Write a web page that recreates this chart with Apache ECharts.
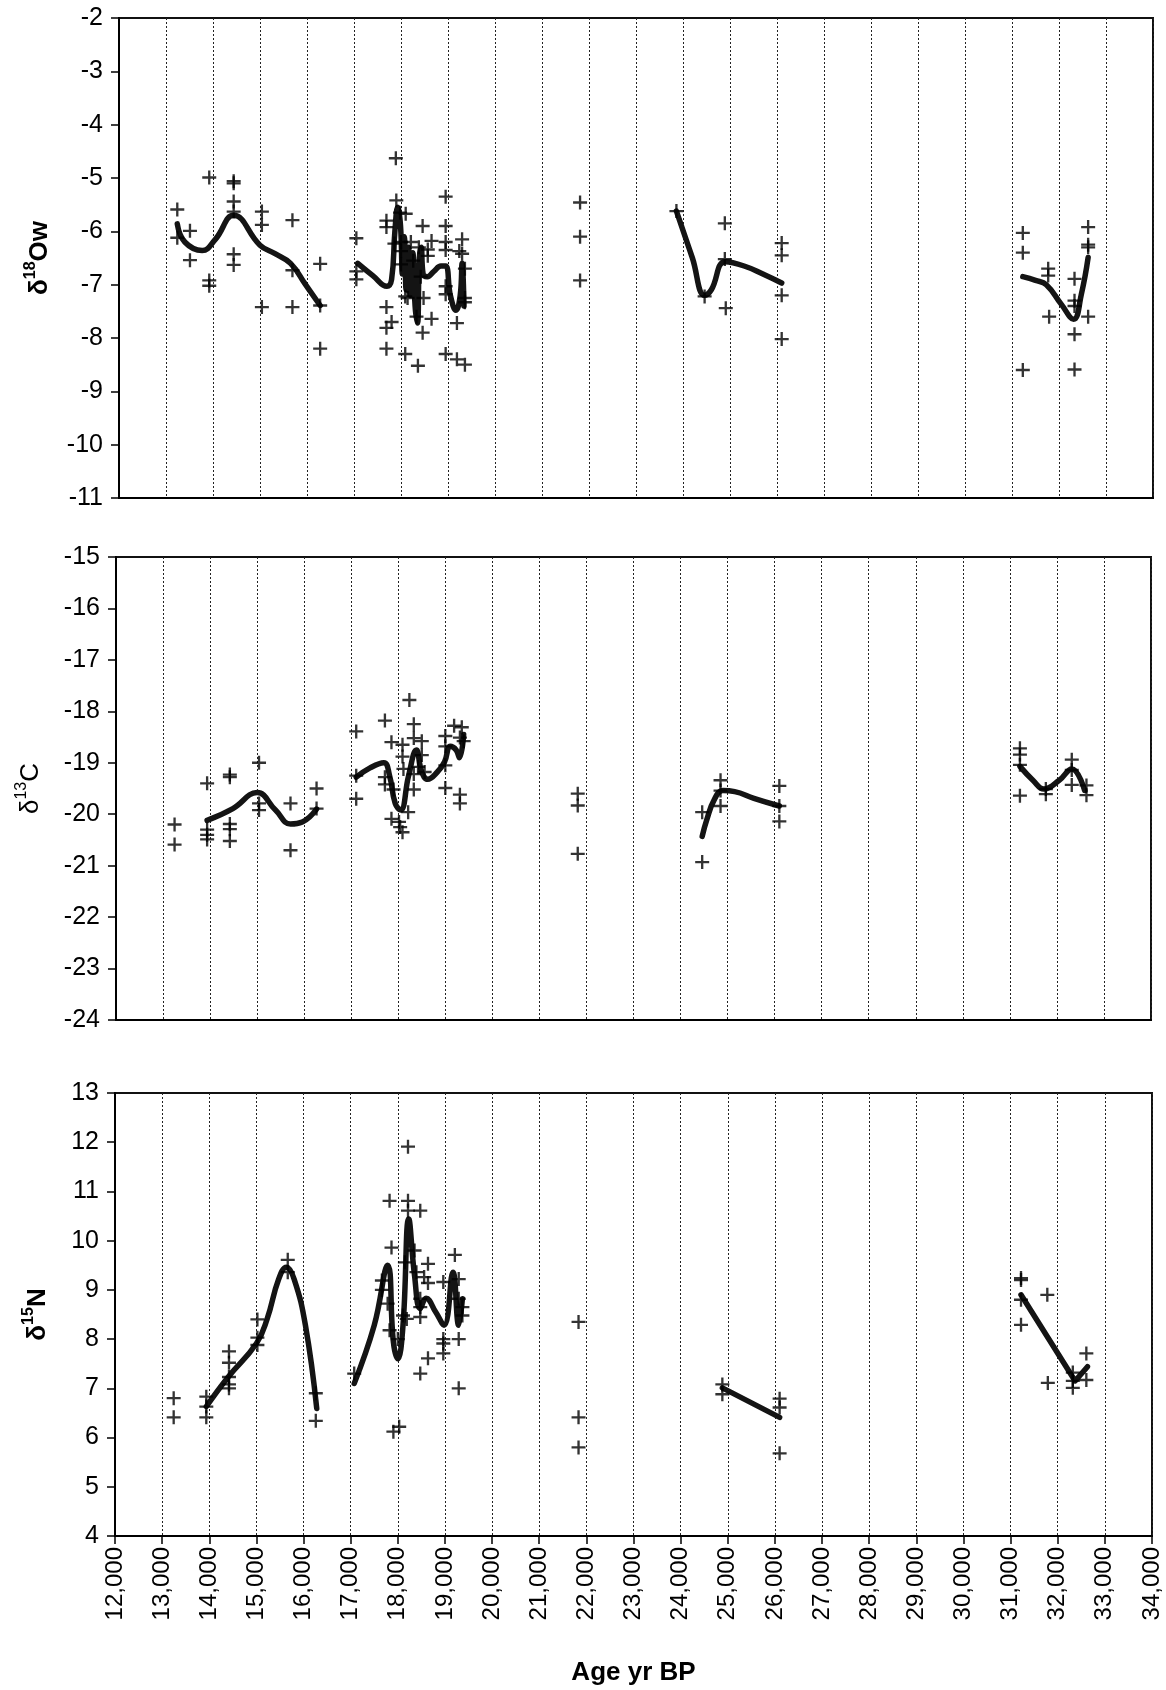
<!DOCTYPE html>
<html>
<head>
<meta charset="utf-8">
<script src="https://cdn.jsdelivr.net/npm/echarts@6/dist/echarts.min.js"></script>
<style>
html,body{margin:0;padding:0;background:#fff;}
#c{width:1166px;height:1690px;}
</style>
</head>
<body>
<div id="c"></div>
<script>
// ---------- DATA ----------
const ageMin = 12000, ageMax = 34000, ageStep = 1000;
const o18Range = [-11, -2];
const c13Range = [-24, -15];
const n15Range = [4, 13];

// δ18Ow measured points [age, value]
const o18Points = [
  [13240,-5.59],[13240,-6.12],[13510,-5.99],[13510,-6.54],[13920,-4.99],[13920,-6.92],[13920,-7.02],
  [14440,-5.06],[14440,-5.1],[14440,-5.44],[14440,-5.63],[14440,-6.43],[14440,-6.63],
  [15040,-5.63],[15040,-5.88],[15040,-7.42],[15690,-5.79],[15690,-6.73],[15690,-7.42],
  [16280,-6.61],[16280,-7.39],[16280,-8.2],
  [17050,-6.13],[17050,-6.75],[17050,-6.9],
  [17690,-5.8],[17690,-5.92],[17690,-7.42],[17690,-7.81],[17690,-8.2],[17800,-7.7],
  [17890,-4.63],[17900,-5.42],[17860,-6.23],[17980,-5.65],[18000,-6.2],[18000,-6.37],[18000,-6.62],
  [18100,-5.67],[18090,-7.22],[18090,-8.3],[18140,-7.25],[18210,-6.2],[18260,-6.55],[18330,-7.6],
  [18360,-8.52],[18380,-6.3],[18420,-6.85],[18460,-5.9],[18460,-7.9],[18480,-7.25],
  [18570,-6.34],[18570,-6.46],[18650,-6.18],[18650,-7.64],
  [18950,-5.35],[18950,-5.9],[18950,-6.2],[18950,-6.35],[18950,-7.03],[18950,-7.18],[18950,-8.3],
  [19190,-7.72],[19190,-8.4],[19240,-6.37],[19300,-6.15],[19300,-6.42],
  [19360,-6.7],[19360,-7.25],[19360,-7.33],[19360,-8.5],
  [21810,-5.46],[21810,-6.1],[21810,-6.92],
  [23860,-5.62],[24460,-7.22],[24890,-5.85],[24890,-6.52],[24910,-7.44],
  [26100,-6.22],[26100,-6.45],[26100,-7.2],[26100,-8.02],
  [31230,-6.03],[31230,-6.4],[31230,-8.6],[31770,-6.7],[31770,-6.83],[31790,-7.6],
  [32330,-6.89],[32330,-7.3],[32330,-7.4],[32330,-7.93],[32330,-8.59],
  [32620,-5.92],[32620,-6.25],[32620,-6.3],[32620,-7.6]
];
// δ18Ow smoothed curves
const o18FitA = [[13240,-5.86],[13400,-6.2],[13770,-6.36],[14050,-6.15],[14440,-5.7],[15000,-6.26],[15320,-6.42],[15650,-6.6],[15970,-7.0],[16280,-7.39]];
const o18FitB = [[17080,-6.6],[17400,-6.83],[17700,-7.03],[17800,-6.9],[17870,-6.0],[17930,-5.55],[17990,-5.9],[18030,-6.8],[18070,-6.1],[18110,-7.1],[18160,-6.3],[18200,-7.2],[18250,-6.4],[18300,-7.4],[18350,-7.72],[18390,-6.5],[18430,-6.3],[18470,-6.8],[18560,-6.85],[18700,-6.75],[18850,-6.65],[18950,-6.65],[19050,-7.2],[19170,-7.48],[19260,-7.2],[19300,-6.6],[19340,-7.4]];
const o18FitC = [[23860,-5.62],[24200,-6.5],[24460,-7.2],[24600,-7.1],[24900,-6.57],[25300,-6.65],[25700,-6.8],[26100,-6.97]];
const o18FitD = [[31230,-6.85],[31500,-6.92],[31730,-7.0],[32050,-7.37],[32310,-7.65],[32475,-7.18],[32620,-6.49]];

// δ13C measured points
const c13Points = [
  [13245,-20.2],[13245,-20.59],[13937,-19.4],[13937,-20.3],[13937,-20.4],[13937,-20.49],
  [14420,-19.23],[14420,-19.28],[14420,-20.19],[14420,-20.29],[14420,-20.52],
  [15040,-19.0],[15040,-19.79],[15040,-19.92],[15709,-19.79],[15709,-20.7],[16263,-19.5],[16263,-19.89],
  [17106,-18.39],[17106,-19.25],[17106,-19.7],[17716,-18.18],[17716,-19.28],[17716,-19.42],
  [17855,-18.6],[17900,-19.52],[17855,-20.09],[18016,-20.15],[18040,-20.25],[18090,-20.35],
  [18236,-17.78],[18090,-18.65],[18330,-18.25],[18090,-18.88],[18110,-19.12],[18330,-18.52],
  [18500,-18.58],[18500,-18.85],[18420,-19.08],[18330,-19.22],[18330,-19.52],[18560,-19.18],[18210,-19.96],
  [19000,-18.48],[19000,-18.68],[19000,-19.05],[19000,-19.49],[19187,-18.28],[19350,-18.31],
  [19310,-18.51],[19390,-18.58],[19310,-19.62],[19310,-19.79],
  [21815,-19.6],[21815,-19.83],[21815,-20.77],
  [24460,-19.96],[24460,-20.93],[24850,-19.34],[24850,-19.54],[24850,-19.84],
  [26100,-19.45],[26100,-19.84],[26100,-20.14],
  [31214,-18.72],[31214,-18.84],[31214,-19.04],[31214,-19.64],[31765,-19.51],[31765,-19.61],
  [32316,-18.94],[32316,-19.14],[32316,-19.43],[32628,-19.44],[32628,-19.63]
];
const c13FitA = [[13937,-20.12],[14484,-19.89],[15000,-19.58],[15390,-19.92],[15709,-20.19],[15960,-20.15],[16263,-19.9]];
const c13FitB = [[17106,-19.28],[17400,-19.1],[17693,-19.0],[17815,-19.25],[17935,-19.79],[18050,-19.92],[18220,-19.25],[18385,-18.75],[18500,-19.18],[18625,-19.32],[18830,-19.18],[18985,-18.98],[19105,-18.68],[19230,-18.75],[19300,-18.9],[19390,-18.45]];
const c13FitC = [[24460,-20.43],[24560,-20.1],[24720,-19.71],[24900,-19.54],[25150,-19.56],[25560,-19.69],[26100,-19.84]];
const c13FitD = [[31214,-19.07],[31500,-19.35],[31724,-19.51],[32050,-19.34],[32316,-19.12],[32590,-19.54]];

// δ15N measured points
const n15Points = [
  [13245,6.8],[13245,6.41],[13937,6.83],[13937,6.63],[13937,6.41],
  [14418,7.75],[14418,7.52],[14418,7.23],[14418,7.08],[14418,7.0],
  [15021,8.4],[15021,8.03],[15021,7.88],[15665,9.61],[15665,9.36],[16260,6.9],[16260,6.34],
  [17075,7.3],[17662,9.19],[17662,9.0],[17825,10.81],[17866,9.86],[17784,8.72],[17825,8.18],
  [17906,6.12],[18029,6.22],[18110,8.48],[18190,8.41],[18216,11.91],[18216,10.81],[18216,10.61],
  [18150,9.56],[18355,9.8],[18395,9.36],[18476,10.61],[18558,9.26],[18640,9.53],[18640,9.14],
  [18476,8.82],[18476,8.65],[18476,8.45],[18640,7.61],[18476,7.3],
  [18965,9.16],[18965,8.0],[18965,7.91],[18965,7.71],[19210,9.71],[19292,9.22],[19292,8.82],
  [19370,8.65],[19370,8.48],[19292,8.0],[19292,7.0],[18000,8.0],
  [21834,8.35],[21834,6.41],[21834,5.8],
  [24885,7.08],[24885,6.88],[26100,6.79],[26100,6.61],[26100,5.68],
  [31221,9.24],[31221,9.2],[31221,8.8],[31221,8.29],[31779,8.9],[31790,7.11],
  [32320,7.32],[32320,7.15],[32320,7.01],[32607,7.71],[32607,7.17]
];
const n15FitA = [[13937,6.63],[14402,7.23],[15000,7.91],[15228,8.41],[15473,9.22],[15636,9.46],[15800,9.22],[16040,8.28],[16280,6.59]];
const n15FitB = [[17075,7.1],[17500,8.28],[17784,9.5],[17906,7.94],[18000,7.6],[18110,8.28],[18232,10.44],[18355,9.29],[18476,8.62],[18600,8.83],[18803,8.55],[18980,8.28],[19170,9.36],[19292,8.28],[19370,8.82]];
const n15FitC = [[24885,7.01],[26100,6.41]];
const n15FitD = [[31221,8.9],[32369,7.15],[32631,7.44]];

// ---------- CHART ----------
const FONT = '"Liberation Sans", Arial, sans-serif';
const plusPath = 'path://M5,0H7V5H12V7H7V12H5V7H0V5H5Z';

function xAxisCfg(idx, showLabels) {
  return {
    type: 'value', gridIndex: idx, min: ageMin, max: ageMax, interval: ageStep,
    axisLine: { show: true, onZero: false, lineStyle: { color: '#000', width: 2 } },
    axisTick: { show: showLabels, length: 8, inside: false, lineStyle: { color: '#000', width: 1.5 } },
    axisLabel: {
      show: showLabels, rotate: 90, margin: 11, fontSize: 24, color: '#000', fontFamily: FONT,
      formatter: v => v.toLocaleString('en-US')
    },
    splitLine: { show: true, lineStyle: { color: '#222', width: 1, type: [2, 2] } },
    name: showLabels ? 'Age yr BP' : '',
    nameLocation: 'middle', nameGap: 124,
    nameTextStyle: { fontSize: 26, fontWeight: 'bold', color: '#000', fontFamily: FONT }
  };
}
function yAxisCfg(idx, range, name, rich, gap) {
  return {
    type: 'value', gridIndex: idx, min: range[0], max: range[1], interval: 1,
    axisLine: { show: true, onZero: false, lineStyle: { color: '#000', width: 2 } },
    axisTick: { show: true, length: 8, inside: false, lineStyle: { color: '#000', width: 1.5 } },
    axisLabel: { margin: 16, fontSize: 25, color: '#000', fontFamily: FONT },
    splitLine: { show: false },
    name: name, nameLocation: 'middle', nameGap: gap, nameRotate: 90,
    nameTextStyle: { rich: rich }
  };
}
function richFor(weight) {
  return {
    a: { fontSize: 26, fontWeight: weight, fontFamily: FONT, color: '#000', lineHeight: 30, verticalAlign: 'bottom' },
    s: { fontSize: 16, fontWeight: weight, fontFamily: FONT, color: '#000', lineHeight: 30, verticalAlign: 'top' }
  };
}

const series = [];
function addPanel(idx, pts, fits) {
  fits.forEach(f => series.push({
    type: 'line', xAxisIndex: idx, yAxisIndex: idx, data: f.data, smooth: f.smooth,
    showSymbol: false, symbol: 'none', lineStyle: { color: '#141414', width: 5.5, cap: 'round', join: 'round' },
    z: 2, silent: true
  }));
  series.push({
    type: 'scatter', xAxisIndex: idx, yAxisIndex: idx, data: pts, symbol: plusPath, symbolSize: 14,
    itemStyle: { color: '#000' }, z: 3, silent: true
  });
}
addPanel(0, o18Points, [{data:o18FitA,smooth:0.45},{data:o18FitB,smooth:0.45},{data:o18FitC,smooth:0.45},{data:o18FitD,smooth:0.45}]);
addPanel(1, c13Points, [{data:c13FitA,smooth:0.45},{data:c13FitB,smooth:0.45},{data:c13FitC,smooth:0.45},{data:c13FitD,smooth:0.45}]);
addPanel(2, n15Points, [{data:n15FitA,smooth:0.45},{data:n15FitB,smooth:0.45},{data:n15FitC,smooth:false},{data:n15FitD,smooth:false}]);

const gridStyle = { show: true, borderColor: '#111', borderWidth: 2, backgroundColor: '#fff' };
const option = {
  animation: false,
  backgroundColor: '#fff',
  grid: [
    Object.assign({ left: 119, right: 13, top: 18, height: 480 }, gridStyle),
    Object.assign({ left: 116, right: 15, top: 557, height: 463 }, gridStyle),
    Object.assign({ left: 115, right: 14, top: 1093, height: 443 }, gridStyle)
  ],
  xAxis: [xAxisCfg(0, false), xAxisCfg(1, false), xAxisCfg(2, true)],
  yAxis: [
    yAxisCfg(0, o18Range, '{a|δ}{s|18}{a|Ow}', richFor('bold'), 66),
    yAxisCfg(1, c13Range, '{a|δ}{s|13}{a|C}', richFor('normal'), 72),
    yAxisCfg(2, n15Range, '{a|δ}{s|15}{a|N}', richFor('bold'), 64)
  ],
  series: series
};
const chart = echarts.init(document.getElementById('c'), null, { renderer: 'canvas' });
chart.setOption(option);
</script>
</body>
</html>
